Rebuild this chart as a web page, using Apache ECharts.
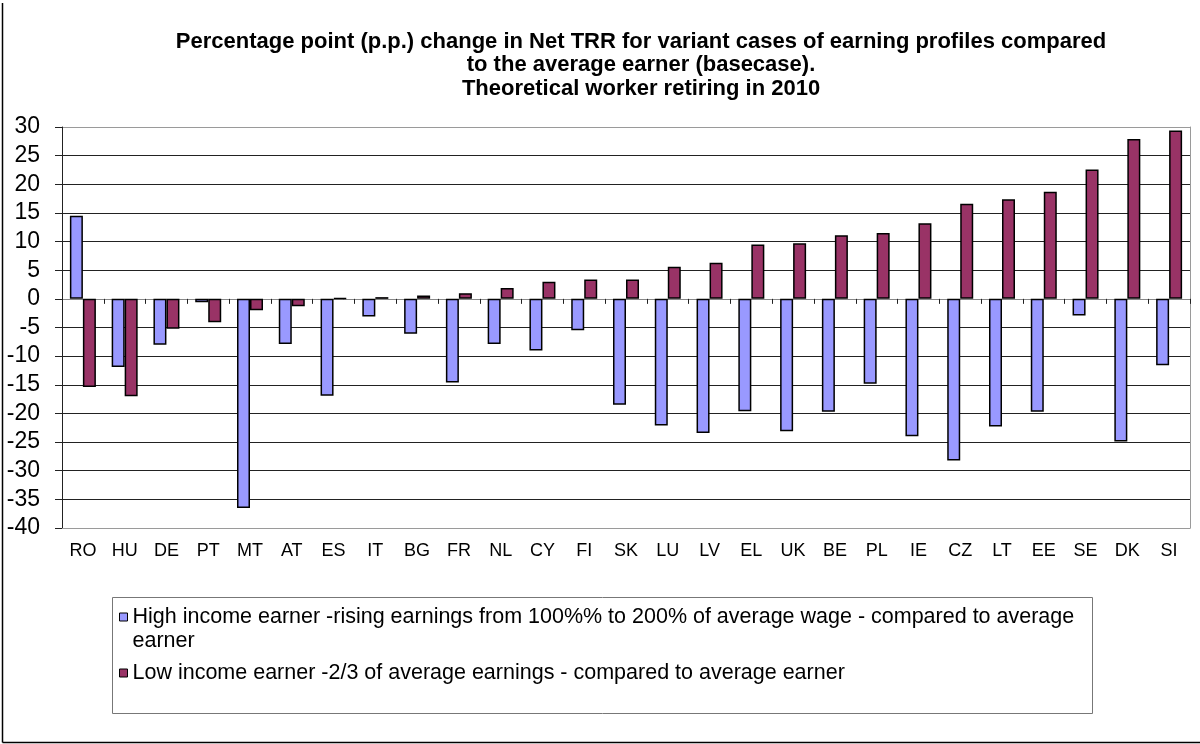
<!DOCTYPE html>
<html>
<head>
<meta charset="utf-8">
<script src="https://cdn.jsdelivr.net/npm/echarts@6/dist/echarts.min.js"></script>
<style>
html,body{margin:0;padding:0;background:#fff;}
#chart{width:1200px;height:744px;}
</style>
</head>
<body>
<div id="chart"></div>
<script>
var titleText = 'Percentage point (p.p.) change in Net TRR for variant cases of earning profiles compared\nto the average earner (basecase).\nTheoretical worker retiring in 2010';
var countries = ['RO','HU','DE','PT','MT','AT','ES','IT','BG','FR','NL','CY','FI','SK','LU','LV','EL','UK','BE','PL','IE','CZ','LT','EE','SE','DK','SI'];
var seriesNames = [
  'High income earner -rising earnings from 100%% to 200% of average wage - compared to average earner',
  'Low income earner -2/3 of average earnings - compared to average earner'
];
var highIncome = [14.5,-11.9,-8.0,-0.6,-36.5,-7.9,-16.9,-3.1,-6.1,-14.6,-7.9,-9.0,-5.5,-18.5,-22.1,-23.4,-19.6,-23.1,-19.7,-14.8,-24.0,-28.2,-22.3,-19.7,-2.9,-24.9,-11.6];
var lowIncome = [-15.4,-17.0,-5.2,-4.1,-2.0,-1.3,0.1,0.3,0.6,1.0,1.9,3.0,3.4,3.4,5.6,6.3,9.5,9.7,11.1,11.5,13.2,16.6,17.4,18.7,22.6,27.9,29.4];
var yMin = -40, yMax = 30, yStep = 5;

var chart = echarts.init(document.getElementById('chart'), null, {renderer:'canvas'});
var font = '"Liberation Sans", Arial, sans-serif';
var splitColors = [];
for (var v = yMin; v <= yMax; v += yStep) {
  splitColors.push((v === yMin || v === yMax) ? '#9a9a9a' : '#222');
}
var option = {
  backgroundColor: '#fff',
  animation: false,
  textStyle: {fontFamily: font},
  title: {
    text: titleText,
    left: 636, top: 25, textAlign: 'center',
    textStyle: {fontFamily: font, fontSize: 22, fontWeight: 'bold', color: '#000', lineHeight: 23.5}
  },
  grid: {left: 62, right: 10, top: 127, bottom: 216, containLabel: false},
  xAxis: [
    {
      type: 'category', data: countries, position: 'bottom',
      axisLine: {onZero: true, lineStyle: {color: '#888', width: 1}},
      axisTick: {show: true, inside: false, length: 5, lineStyle: {color: '#222'}},
      axisLabel: {show: false},
      splitLine: {show: false}
    },
    {
      type: 'category', data: countries, position: 'bottom', gridIndex: 0,
      axisLine: {show: true, onZero: false, lineStyle: {color: '#9a9a9a'}},
      axisTick: {show: false},
      axisLabel: {show: true, color: '#000', fontSize: 18, margin: 14, fontFamily: font, interval: 0},
      splitLine: {show: false}
    }
  ],
  yAxis: [
    {
      type: 'value', min: yMin, max: yMax, interval: yStep,
      axisLine: {show: true, lineStyle: {color: '#222'}},
      axisTick: {show: true, length: 7, lineStyle: {color: '#222'}},
      axisLabel: {color: '#000', fontSize: 23, margin: 22, fontFamily: font},
      splitLine: {show: true, lineStyle: {color: splitColors, width: 1}}
    },
    {
      type: 'value', min: yMin, max: yMax, interval: yStep, position: 'right',
      axisLine: {show: true, lineStyle: {color: '#9a9a9a'}},
      axisTick: {show: false}, axisLabel: {show: false}, splitLine: {show: false}
    }
  ],
  legend: [
    {
      data: [seriesNames[0]], orient: 'vertical', left: 114, top: 576,
      icon: 'rect', itemWidth: 8, itemHeight: 8,
      formatter: function (n) { return '\n' + n.replace(/ earner$/, '\nearner'); },
      itemStyle: {borderColor: '#000', borderWidth: 1},
      textStyle: {fontFamily: font, fontSize: 21.5, color: '#000', lineHeight: 24}
    },
    {
      data: [seriesNames[1]], orient: 'vertical', left: 114, top: 656,
      icon: 'rect', itemWidth: 8, itemHeight: 8,
      itemStyle: {borderColor: '#000', borderWidth: 1},
      textStyle: {fontFamily: font, fontSize: 21.5, color: '#000', lineHeight: 24}
    }
  ],
  graphic: [
    {type: 'rect', shape: {x: 112.5, y: 597.5, width: 980, height: 116}, style: {fill: 'none', stroke: '#777', lineWidth: 1}, silent: true},
    {type: 'line', shape: {x1: 2.5, y1: 3, x2: 2.5, y2: 742.5}, style: {stroke: '#000', lineWidth: 1.5}, silent: true},
    {type: 'line', shape: {x1: 2.5, y1: 742.5, x2: 1200, y2: 742.5}, style: {stroke: '#000', lineWidth: 1.5}, silent: true}
  ],
  series: [
    {
      name: seriesNames[0], type: 'bar', data: highIncome, barWidth: 13, barGap: '0%',
      xAxisIndex: 0, yAxisIndex: 0,
      itemStyle: {color: '#9999FF', borderColor: '#000', borderWidth: 1.5}
    },
    {
      name: seriesNames[1], type: 'bar', data: lowIncome, barWidth: 13, barGap: '0%',
      xAxisIndex: 0, yAxisIndex: 0,
      itemStyle: {color: '#993366', borderColor: '#000', borderWidth: 1.5}
    }
  ]
};
chart.setOption(option);
</script>
</body>
</html>
